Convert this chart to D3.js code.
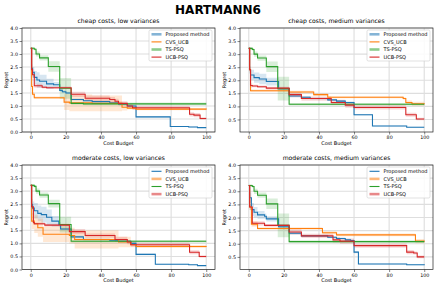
<!DOCTYPE html>
<html>
<head>
<meta charset="utf-8">
<script src="https://cdnjs.cloudflare.com/ajax/libs/d3/7.8.5/d3.min.js"></script>
<style>
  body { margin: 0; background: #fff; }
  text { font-family: "DejaVu Sans", sans-serif; fill: #000; }
</style>
</head>
<body>
<div id="chart"></div>
<script>
// series names and tick labels
const seriesNames = ['Proposed method', 'CVS_UCB', 'TS-PSQ', 'UCB-PSQ'];
const xTicks = [0, 20, 40, 60, 80, 100];
const yTicksFull = [0, 0.5, 1, 1.5, 2, 2.5, 3, 3.5, 4];
const yTicksNoZero = [0.5, 1, 1.5, 2, 2.5, 3, 3.5, 4];
const panelTitles = ['cheap costs, low variances', 'cheap costs, medium variances',
  'moderate costs, low variances', 'moderate costs, medium variances'];

// each point: [cost budget, mean regret, band half width]
const cheapLowProposed = [[0,3.22,0],[0.5,2.45,0.15],[1,2.3,0.2],[2,2.1,0.25],[3.5,2.0,0.3],[5,1.95,0.25],[9,1.85,0.2],[13,1.82,0.1],[16.5,1.6,0.05],[18,1.55,0.05],[20,1.5,0.05],[23,1.25,0.04],[30,1.2,0.04],[35,1.17,0.04],[45,1.12,0.04],[50,1.08,0.04],[55,1.0,0.04],[60,0.58,0.03],[79.5,0.21,0.02],[90,0.19,0.02],[95,0.17,0.02],[100,0.17,0.02]];
const cheapLowCvs = [[0,3.22,0],[0.5,1.75,0.1],[1,1.45,0.08],[2,1.32,0.05],[19,1.15,0.3],[22,1.12,0.32],[35,1.1,0.3],[52,0.95,0.12],[55,0.92,0.05],[60,0.88,0.04],[100,0.87,0.04]];
const cheapLowTs = [[0,3.22,0.05],[2,3.18,0.05],[3,3.0,0.1],[5,2.85,0.1],[10,2.52,0.2],[16.5,1.68,0.4],[23,1.1,0.05],[30,1.08,0.05],[100,1.08,0.05]];
const cheapLowUcb = [[0,3.22,0],[0.5,2.4,0.1],[1,2.2,0.1],[2,1.78,0.08],[6.5,1.72,0.05],[9,1.7,0.05],[23,1.45,0.1],[31,1.3,0.1],[45,1.25,0.1],[48,1.18,0.1],[50,1.1,0.08],[55,1.0,0.08],[58,0.93,0.08],[90.5,0.68,0.08],[93,0.65,0.08],[96.5,0.52,0.05],[100,0.52,0.05]];

const cheapMedProposed = [[0,3.22,0],[0.5,2.4,0.15],[1,2.2,0.2],[3,2.1,0.2],[6,2.05,0.2],[10,1.95,0.15],[17,1.68,0.05],[23,1.4,0.05],[30,1.35,0.04],[35,1.3,0.04],[45,1.25,0.04],[50,1.2,0.04],[55,1.15,0.04],[60,0.68,0.03],[70.5,0.25,0.02],[90,0.2,0.02],[100,0.2,0.02]];
const cheapMedCvs = [[0,3.22,0],[0.5,2.4,0.1],[1,1.6,0.05],[23,1.55,0.05],[37,1.45,0.05],[45,1.35,0.04],[88,1.3,0.05],[89.5,1.15,0.08],[93,1.1,0.08],[100,1.08,0.08]];
const cheapMedTs = [[0,3.22,0.05],[2,3.18,0.05],[3,3.0,0.1],[5,2.85,0.1],[10,2.52,0.2],[16.5,1.68,0.45],[23,1.08,0.05],[100,1.08,0.05]];
const cheapMedUcb = [[0,3.22,0],[0.5,2.4,0.1],[1,1.8,0.08],[2,1.78,0.05],[5,1.75,0.05],[10,1.7,0.05],[23,1.45,0.1],[30,1.3,0.08],[47,1.15,0.1],[55,1.05,0.1],[60,0.96,0.08],[89.5,0.68,0.08],[95.5,0.52,0.05],[100,0.52,0.05]];

const modLowProposed = [[0,3.22,0],[0.5,2.5,0.2],[1,2.35,0.25],[2,2.25,0.3],[4,2.15,0.3],[6,2.1,0.3],[9,2.0,0.3],[12,1.85,0.2],[16,1.72,0.1],[17,1.55,0.05],[23,1.25,0.05],[30,1.15,0.04],[45,1.12,0.04],[50,1.08,0.04],[57,1.0,0.04],[60,0.58,0.03],[71,0.2,0.02],[90,0.18,0.02],[95,0.15,0.02],[100,0.15,0.02]];
const modLowCvs = [[0,3.22,0],[0.5,1.85,0.3],[2,1.75,0.35],[4,1.6,0.35],[7,1.35,0.3],[22,1.3,0.3],[25,1.15,0.35],[50,1.05,0.2],[57,0.95,0.1],[60,0.88,0.06],[100,0.87,0.06]];
const modLowTs = [[0,3.22,0.05],[2,3.18,0.05],[3,3.0,0.1],[5,2.85,0.1],[10,2.52,0.15],[16.5,1.72,0.3],[23,1.08,0.05],[100,1.08,0.05]];
const modLowUcb = [[0,3.22,0],[0.5,2.4,0.1],[1.5,1.8,0.08],[2,1.75,0.05],[8,1.7,0.05],[22,1.45,0.1],[31,1.3,0.08],[48,1.15,0.1],[55,1.05,0.08],[57,0.95,0.08],[90.5,0.66,0.08],[96,0.5,0.05],[100,0.5,0.05]];

const modMedProposed = [[0,3.22,0],[0.5,2.75,0.2],[1.5,2.3,0.25],[3,2.2,0.2],[5,2.1,0.15],[9,2.05,0.1],[10,1.95,0.1],[17,1.65,0.05],[23,1.4,0.05],[30,1.3,0.04],[45,1.25,0.04],[50,1.2,0.04],[55,1.15,0.04],[58,1.12,0.04],[60,0.68,0.04],[62.5,0.23,0.02],[90,0.2,0.02],[100,0.18,0.02]];
const modMedCvs = [[0,3.22,0],[0.5,2.4,0.1],[1.5,1.75,0.1],[5,1.58,0.05],[42,1.42,0.06],[50,1.34,0.05],[95,1.1,0.08],[100,1.08,0.08]];
const modMedTs = [[0,3.22,0.05],[2,3.18,0.05],[3,3.0,0.1],[5,2.85,0.1],[10,2.52,0.2],[16.5,1.7,0.45],[23,1.08,0.05],[100,1.08,0.05]];
const modMedUcb = [[0,3.22,0],[0.5,2.4,0.1],[2,1.78,0.08],[9,1.7,0.05],[23,1.45,0.1],[30,1.3,0.08],[48,1.15,0.1],[52,1.1,0.1],[60,0.93,0.08],[90,0.68,0.08],[94,0.65,0.06],[96,0.5,0.05],[100,0.5,0.05]];

const colors = ['#1f77b4', '#ff7f0e', '#2ca02c', '#d62728'];

let panels = [
  {title: panelTitles[0], series: [cheapLowProposed, cheapLowCvs, cheapLowTs, cheapLowUcb],
   yTicks: yTicksFull, yMin: 0, box: {left: 22, top: 28, width: 193, height: 104}, bandLegend: [true, false, true, false]},
  {title: panelTitles[1], series: [cheapMedProposed, cheapMedCvs, cheapMedTs, cheapMedUcb],
   yTicks: yTicksNoZero, yMin: 0.02, box: {left: 240, top: 28, width: 193, height: 104}, bandLegend: [true, false, true, false]},
  {title: panelTitles[2], series: [modLowProposed, modLowCvs, modLowTs, modLowUcb],
   yTicks: yTicksFull, yMin: 0, box: {left: 22, top: 165, width: 193, height: 104.5}, bandLegend: [false, true, false, true]},
  {title: panelTitles[3], series: [modMedProposed, modMedCvs, modMedTs, modMedUcb],
   yTicks: yTicksNoZero, yMin: 0.02, box: {left: 240, top: 165, width: 193, height: 104.5}, bandLegend: [false, true, false, true]}
];

let svg = d3.select('#chart').append('svg')
  .attr('width', 436)
  .attr('height', 289);

svg.append('text')
  .attr('x', 218)
  .attr('y', 14)
  .attr('text-anchor', 'middle')
  .style('font-size', '12px')
  .style('font-weight', 'bold')
  .text('HARTMANN6');

panels.forEach(function(p) {
  let b = p.box;
  let g = svg.append('g')
    .attr('transform', 'translate(' + b.left + ',' + b.top + ')');

  let x = d3.scaleLinear().domain([-5, 105]).range([0, b.width]);
  let y = d3.scaleLinear().domain([p.yMin, 4]).range([b.height, 0]);

  // grid
  g.selectAll('.vgrid').data(xTicks).enter().append('line')
    .attr('x1', d => x(d)).attr('x2', d => x(d))
    .attr('y1', 0).attr('y2', b.height)
    .attr('stroke', '#dedede').attr('stroke-width', 1.1);
  g.selectAll('.hgrid').data(p.yTicks).enter().append('line')
    .attr('x1', 0).attr('x2', b.width)
    .attr('y1', d => y(d)).attr('y2', d => y(d))
    .attr('stroke', '#dedede').attr('stroke-width', 1.1);

  let clip = 'clip' + b.left + '_' + b.top;
  g.append('clipPath').attr('id', clip)
    .append('rect').attr('width', b.width).attr('height', b.height);
  let plot = g.append('g').attr('clip-path', 'url(#' + clip + ')');

  let band = d3.area()
    .curve(d3.curveStepAfter)
    .x(d => x(d[0]))
    .y0(d => y(d[1] - d[2]))
    .y1(d => y(d[1] + d[2]));
  let line = d3.line()
    .curve(d3.curveStepAfter)
    .x(d => x(d[0]))
    .y(d => y(d[1]));

  p.series.forEach(function(s, i) {
    plot.append('path')
      .datum(s)
      .attr('d', band)
      .attr('fill', colors[i])
      .attr('fill-opacity', 0.18);
  });
  p.series.forEach(function(s, i) {
    plot.append('path')
      .datum(s)
      .attr('d', line)
      .attr('fill', 'none')
      .attr('stroke', colors[i])
      .attr('stroke-width', 1.1);
  });

  // axes
  let xAxis = g.append('g')
    .attr('transform', 'translate(0,' + b.height + ')')
    .call(d3.axisBottom(x).tickValues(xTicks).tickSize(2.5).tickPadding(1.5));
  let yAxis = g.append('g')
    .call(d3.axisLeft(y).tickValues(p.yTicks).tickSize(2.5).tickPadding(1.5).tickFormat(d3.format('.1f')));
  [xAxis, yAxis].forEach(function(a) {
    a.select('.domain').remove();
    a.selectAll('line').attr('stroke', '#333').attr('stroke-width', 0.6);
    a.selectAll('text').style('font-size', '4.8px').attr('fill', '#000');
  });

  g.append('rect')
    .attr('width', b.width).attr('height', b.height)
    .attr('fill', 'none').attr('stroke', '#222').attr('stroke-width', 0.7);

  g.append('text')
    .attr('x', b.width / 2).attr('y', -5)
    .attr('text-anchor', 'middle')
    .style('font-size', '6.1px')
    .text(p.title);
  g.append('text')
    .attr('x', b.width / 2).attr('y', b.height + 12.5)
    .attr('text-anchor', 'middle')
    .style('font-size', '5px')
    .text('Cost Budget');
  g.append('text')
    .attr('transform', 'translate(' + (-14) + ',' + (b.height / 2) + ') rotate(-90)')
    .attr('text-anchor', 'middle')
    .style('font-size', '5px')
    .text('Regret');

  // legend
  let lg = g.append('g').attr('transform', 'translate(' + (b.width - 66) + ',2)');
  lg.append('rect')
    .attr('width', 63).attr('height', 31).attr('rx', 1.5)
    .attr('fill', '#fff').attr('fill-opacity', 0.85)
    .attr('stroke', '#ccc').attr('stroke-width', 0.6);
  seriesNames.forEach(function(name, i) {
    let ly = 4.3 + i * 7.6;
    lg.append('line')
      .attr('x1', 2.5).attr('x2', 12.5)
      .attr('y1', ly).attr('y2', ly)
      .attr('stroke', colors[i])
      .attr('stroke-width', p.bandLegend[i] ? 2.6 : 1.1)
      .attr('stroke-opacity', p.bandLegend[i] ? 0.55 : 1);
    lg.append('text')
      .attr('x', 16.5).attr('y', ly + 1.8)
      .style('font-size', '5px')
      .text(name);
  });
});
</script>
</body>
</html>
